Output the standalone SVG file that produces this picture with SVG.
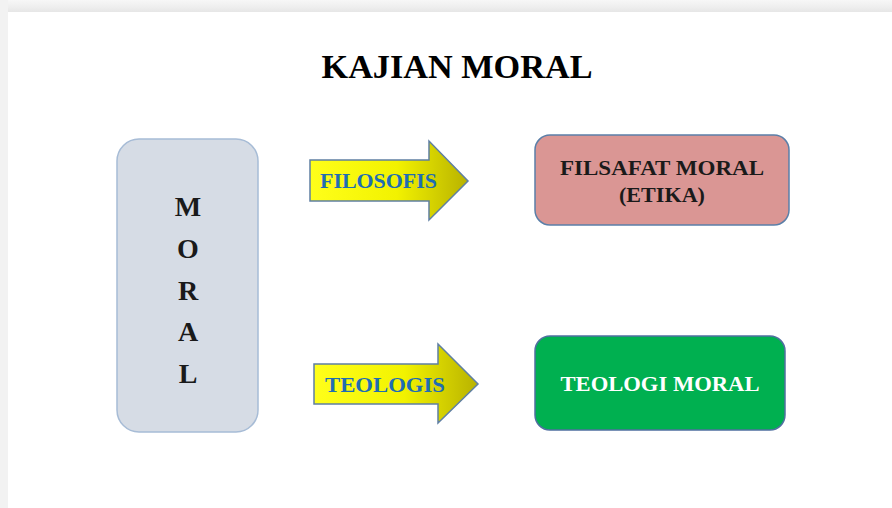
<svg xmlns="http://www.w3.org/2000/svg" width="892" height="508" viewBox="0 0 892 508">
  <defs>
    <linearGradient id="topband" x1="0" y1="0" x2="0" y2="1">
      <stop offset="0" stop-color="#f7f7f7"/>
      <stop offset="0.6" stop-color="#eeeeee"/>
      <stop offset="1" stop-color="#e6e6e6"/>
    </linearGradient>
    <linearGradient id="yel" x1="0" y1="0" x2="1" y2="0">
      <stop offset="0" stop-color="#ffff1a"/>
      <stop offset="0.55" stop-color="#f2f200"/>
      <stop offset="1" stop-color="#b8b200"/>
    </linearGradient>
    <style>
      .t { font-family: "Liberation Serif", "Times New Roman", serif; font-weight: bold; }
      .arrow { fill: url(#yel); stroke: #5f7fa3; stroke-width: 1.5; }
      .arrtxt { fill: #1f6db3; font-size: 21px; }
      .box { stroke-width: 1.5; }
    </style>
  </defs>

  <rect x="0" y="0" width="892" height="508" fill="#ffffff"/>
  <rect x="0" y="0" width="892" height="12" fill="url(#topband)"/>
  <rect x="0" y="0" width="8" height="508" fill="#f2f2f2"/>

  <text class="t" x="457" y="78" font-size="33" text-anchor="middle" fill="#000000" textLength="271" lengthAdjust="spacingAndGlyphs">KAJIAN MORAL</text>

  <g id="moral">
    <rect class="box" x="117" y="139" width="141" height="293" rx="22" fill="#d6dce5" stroke="#a7bcd6"/>
    <g class="t" font-size="28" text-anchor="middle" fill="#1a1a1a">
      <text x="188" y="216">M</text>
      <text x="188" y="258">O</text>
      <text x="188" y="300">R</text>
      <text x="188" y="341">A</text>
      <text x="188" y="383">L</text>
    </g>
  </g>

  <g id="connectors">
    <g id="arrow-filosofis">
      <path class="arrow" d="M310,160 L429,160 L429,141 L468,181 L429,220 L429,201 L310,201 Z"/>
      <text class="t arrtxt" x="320" y="188" textLength="117" lengthAdjust="spacingAndGlyphs">FILOSOFIS</text>
    </g>
    <g id="arrow-teologis">
      <path class="arrow" d="M314,364 L438,364 L438,344 L478,384 L438,423 L438,404 L314,404 Z"/>
      <text class="t arrtxt" x="325" y="392" textLength="120" lengthAdjust="spacingAndGlyphs">TEOLOGIS</text>
    </g>
  </g>

  <g id="filsafat">
    <rect class="box" x="535" y="135" width="254" height="90" rx="15" fill="#da9694" stroke="#5b7fa8"/>
    <text class="t" x="662" y="175" font-size="20" text-anchor="middle" fill="#1a1a1a" textLength="204" lengthAdjust="spacingAndGlyphs">FILSAFAT MORAL</text>
    <text class="t" x="662" y="202" font-size="20" text-anchor="middle" fill="#1a1a1a" textLength="86" lengthAdjust="spacingAndGlyphs">(ETIKA)</text>
  </g>

  <g id="teologi">
    <rect class="box" x="535" y="336" width="250" height="94" rx="15" fill="#00b050" stroke="#4f6fa0"/>
    <text class="t" x="660" y="391" font-size="20" text-anchor="middle" fill="#ffffff" textLength="199" lengthAdjust="spacingAndGlyphs">TEOLOGI MORAL</text>
  </g>
</svg>
